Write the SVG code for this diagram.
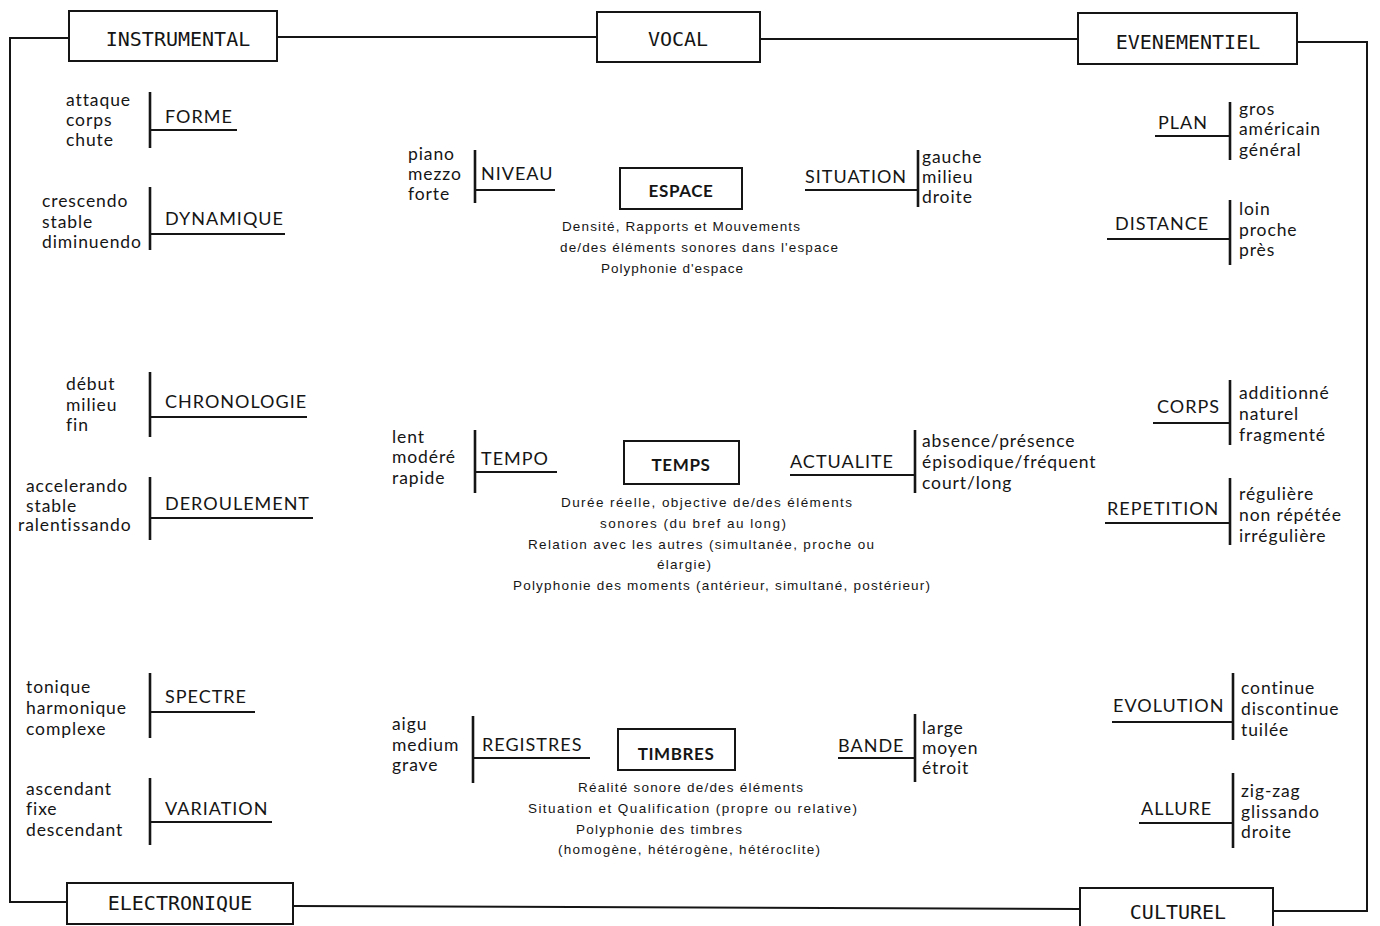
<svg xmlns="http://www.w3.org/2000/svg" width="1380" height="926" viewBox="0 0 1380 926">
  <style>
    .frame { fill: none; stroke: #151515; stroke-width: 2; }
    .box { fill: #fff; stroke: #151515; stroke-width: 2; }
    .cat { font-family: "DejaVu Sans Mono", "Liberation Mono", monospace; font-size: 20px; fill: #151515; text-anchor: middle; }
    .core { font-family: Lato, "Noto Sans", sans-serif; font-weight: bold; font-size: 17px; letter-spacing: 0.6px; fill: #151515; text-anchor: middle; }
    .lbl { font-family: Lato, "Noto Sans", sans-serif; font-size: 18px; letter-spacing: 1px; fill: #151515; }
    .item { font-family: Lato, "Noto Sans", sans-serif; font-size: 17.5px; letter-spacing: 0.9px; fill: #151515; }
    .desc { font-family: "Liberation Sans", Arial, sans-serif; font-size: 13.5px; fill: #151515; }
    .bar { stroke: #151515; stroke-width: 2.6; }
    .rule { stroke: #151515; stroke-width: 1.8; }
  </style>
  <rect width="1380" height="926" fill="#fff"/>

  <!-- outer frame joining the five categories -->
  <g id="connectors">
    <path class="frame" d="M69,38 H10 V902 H67"/>
    <path class="frame" d="M277,37 H597"/>
    <path class="frame" d="M760,39 H1078"/>
    <path class="frame" d="M1297,42 H1367 V911 H1273"/>
    <path class="frame" d="M293,906 L1080,909"/>
  </g>

  <!-- category boxes -->
  <g id="instrumental">
    <rect class="box" x="69" y="11" width="208" height="50"/>
    <text class="cat" x="178" y="46">INSTRUMENTAL</text>
  </g>
  <g id="vocal">
    <rect class="box" x="597" y="12" width="163" height="50"/>
    <text class="cat" x="678" y="46">VOCAL</text>
  </g>
  <g id="evenementiel">
    <rect class="box" x="1078" y="13" width="219" height="51"/>
    <text class="cat" x="1188" y="49">EVENEMENTIEL</text>
  </g>
  <g id="electronique">
    <rect class="box" x="67" y="883" width="226" height="41"/>
    <text class="cat" x="180" y="910">ELECTRONIQUE</text>
  </g>
  <g id="culturel">
    <rect class="box" x="1080" y="888" width="193" height="50"/>
    <text class="cat" x="1178" y="919">CULTUREL</text>
  </g>

  <!-- left column -->
  <g id="forme">
    <line class="bar" x1="150" y1="92" x2="150" y2="148"/>
    <line class="rule" x1="150" y1="130" x2="237" y2="130"/>
    <text class="lbl" x="165" y="123">FORME</text>
    <text class="item" x="66" y="106">attaque</text>
    <text class="item" x="66" y="126">corps</text>
    <text class="item" x="66" y="146">chute</text>
  </g>
  <g id="dynamique">
    <line class="bar" x1="150" y1="187" x2="150" y2="250"/>
    <line class="rule" x1="150" y1="234" x2="285" y2="234"/>
    <text class="lbl" x="165" y="225">DYNAMIQUE</text>
    <text class="item" x="42" y="207">crescendo</text>
    <text class="item" x="42" y="228">stable</text>
    <text class="item" x="42" y="248">diminuendo</text>
  </g>
  <g id="chronologie">
    <line class="bar" x1="150" y1="372" x2="150" y2="437"/>
    <line class="rule" x1="150" y1="417" x2="307" y2="417"/>
    <text class="lbl" x="165" y="408">CHRONOLOGIE</text>
    <text class="item" x="66" y="390">début</text>
    <text class="item" x="66" y="411">milieu</text>
    <text class="item" x="66" y="431">fin</text>
  </g>
  <g id="deroulement">
    <line class="bar" x1="150" y1="477" x2="150" y2="540"/>
    <line class="rule" x1="150" y1="518" x2="313" y2="518"/>
    <text class="lbl" x="165" y="510">DEROULEMENT</text>
    <text class="item" x="26" y="492">accelerando</text>
    <text class="item" x="26" y="512">stable</text>
    <text class="item" x="18" y="531">ralentissando</text>
  </g>
  <g id="spectre">
    <line class="bar" x1="150" y1="673" x2="150" y2="738"/>
    <line class="rule" x1="150" y1="712" x2="255" y2="712"/>
    <text class="lbl" x="165" y="703">SPECTRE</text>
    <text class="item" x="26" y="693">tonique</text>
    <text class="item" x="26" y="714">harmonique</text>
    <text class="item" x="26" y="735">complexe</text>
  </g>
  <g id="variation">
    <line class="bar" x1="150" y1="778" x2="150" y2="845"/>
    <line class="rule" x1="150" y1="822" x2="272" y2="822"/>
    <text class="lbl" x="165" y="815">VARIATION</text>
    <text class="item" x="26" y="795">ascendant</text>
    <text class="item" x="26" y="815">fixe</text>
    <text class="item" x="26" y="836">descendant</text>
  </g>

  <!-- centre: ESPACE -->
  <g id="niveau">
    <line class="bar" x1="475" y1="150" x2="475" y2="203"/>
    <line class="rule" x1="475" y1="190" x2="555" y2="190"/>
    <text class="lbl" x="481" y="180">NIVEAU</text>
    <text class="item" x="408" y="160">piano</text>
    <text class="item" x="408" y="180">mezzo</text>
    <text class="item" x="408" y="200">forte</text>
  </g>
  <g id="espace">
    <rect class="box" x="620" y="168" width="122" height="41"/>
    <text class="core" x="681" y="197">ESPACE</text>
    <text class="desc" x="562" y="231" textLength="238" lengthAdjust="spacing">Densité, Rapports et Mouvements</text>
    <text class="desc" x="560" y="252" textLength="278" lengthAdjust="spacing">de/des éléments sonores dans l'espace</text>
    <text class="desc" x="601" y="273" textLength="142" lengthAdjust="spacing">Polyphonie d'espace</text>
  </g>
  <g id="situation">
    <line class="bar" x1="918" y1="150" x2="918" y2="207"/>
    <line class="rule" x1="805" y1="190" x2="918" y2="190"/>
    <text class="lbl" x="805" y="183">SITUATION</text>
    <text class="item" x="922" y="163">gauche</text>
    <text class="item" x="922" y="183">milieu</text>
    <text class="item" x="922" y="203">droite</text>
  </g>

  <!-- centre: TEMPS -->
  <g id="tempo">
    <line class="bar" x1="475" y1="430" x2="475" y2="493"/>
    <line class="rule" x1="475" y1="472" x2="557" y2="472"/>
    <text class="lbl" x="481" y="465">TEMPO</text>
    <text class="item" x="392" y="443">lent</text>
    <text class="item" x="392" y="463">modéré</text>
    <text class="item" x="392" y="484">rapide</text>
  </g>
  <g id="temps">
    <rect class="box" x="624" y="441" width="115" height="43"/>
    <text class="core" x="681" y="471">TEMPS</text>
    <text class="desc" x="561" y="507" textLength="291" lengthAdjust="spacing">Durée réelle, objective de/des éléments</text>
    <text class="desc" x="600" y="528" textLength="186" lengthAdjust="spacing">sonores (du bref au long)</text>
    <text class="desc" x="528" y="549" textLength="346" lengthAdjust="spacing">Relation avec les autres (simultanée, proche ou</text>
    <text class="desc" x="657" y="569" textLength="54" lengthAdjust="spacing">élargie)</text>
    <text class="desc" x="513" y="590" textLength="417" lengthAdjust="spacing">Polyphonie des moments (antérieur, simultané, postérieur)</text>
  </g>
  <g id="actualite">
    <line class="bar" x1="915" y1="430" x2="915" y2="493"/>
    <line class="rule" x1="790" y1="475" x2="915" y2="475"/>
    <text class="lbl" x="790" y="468">ACTUALITE</text>
    <text class="item" x="922" y="447">absence/présence</text>
    <text class="item" x="922" y="468">épisodique/fréquent</text>
    <text class="item" x="922" y="489">court/long</text>
  </g>

  <!-- centre: TIMBRES -->
  <g id="registres">
    <line class="bar" x1="473" y1="716" x2="473" y2="783"/>
    <line class="rule" x1="473" y1="758" x2="590" y2="758"/>
    <text class="lbl" x="482" y="751">REGISTRES</text>
    <text class="item" x="392" y="730">aigu</text>
    <text class="item" x="392" y="751">medium</text>
    <text class="item" x="392" y="771">grave</text>
  </g>
  <g id="timbres">
    <rect class="box" x="618" y="729" width="117" height="41"/>
    <text class="core" x="676" y="760">TIMBRES</text>
    <text class="desc" x="578" y="792" textLength="225" lengthAdjust="spacing">Réalité sonore de/des éléments</text>
    <text class="desc" x="528" y="813" textLength="329" lengthAdjust="spacing">Situation et Qualification (propre ou relative)</text>
    <text class="desc" x="576" y="834" textLength="166" lengthAdjust="spacing">Polyphonie des timbres</text>
    <text class="desc" x="558" y="854" textLength="262" lengthAdjust="spacing">(homogène, hétérogène, hétéroclite)</text>
  </g>
  <g id="bande">
    <line class="bar" x1="915" y1="714" x2="915" y2="782"/>
    <line class="rule" x1="838" y1="758" x2="915" y2="758"/>
    <text class="lbl" x="838" y="752">BANDE</text>
    <text class="item" x="922" y="734">large</text>
    <text class="item" x="922" y="754">moyen</text>
    <text class="item" x="922" y="774">étroit</text>
  </g>

  <!-- right column -->
  <g id="plan">
    <line class="bar" x1="1230" y1="102" x2="1230" y2="160"/>
    <line class="rule" x1="1155" y1="136" x2="1230" y2="136"/>
    <text class="lbl" x="1158" y="129">PLAN</text>
    <text class="item" x="1239" y="115">gros</text>
    <text class="item" x="1239" y="135">américain</text>
    <text class="item" x="1239" y="156">général</text>
  </g>
  <g id="distance">
    <line class="bar" x1="1230" y1="200" x2="1230" y2="265"/>
    <line class="rule" x1="1107" y1="239" x2="1230" y2="239"/>
    <text class="lbl" x="1115" y="230">DISTANCE</text>
    <text class="item" x="1239" y="215">loin</text>
    <text class="item" x="1239" y="236">proche</text>
    <text class="item" x="1239" y="256">près</text>
  </g>
  <g id="corps">
    <line class="bar" x1="1230" y1="380" x2="1230" y2="445"/>
    <line class="rule" x1="1153" y1="423" x2="1230" y2="423"/>
    <text class="lbl" x="1157" y="413">CORPS</text>
    <text class="item" x="1239" y="399">additionné</text>
    <text class="item" x="1239" y="420">naturel</text>
    <text class="item" x="1239" y="441">fragmenté</text>
  </g>
  <g id="repetition">
    <line class="bar" x1="1230" y1="478" x2="1230" y2="545"/>
    <line class="rule" x1="1105" y1="523" x2="1230" y2="523"/>
    <text class="lbl" x="1107" y="515">REPETITION</text>
    <text class="item" x="1239" y="500">régulière</text>
    <text class="item" x="1239" y="521">non répétée</text>
    <text class="item" x="1239" y="542">irrégulière</text>
  </g>
  <g id="evolution">
    <line class="bar" x1="1233" y1="673" x2="1233" y2="740"/>
    <line class="rule" x1="1112" y1="722" x2="1233" y2="722"/>
    <text class="lbl" x="1113" y="712">EVOLUTION</text>
    <text class="item" x="1241" y="694">continue</text>
    <text class="item" x="1241" y="715">discontinue</text>
    <text class="item" x="1241" y="736">tuilée</text>
  </g>
  <g id="allure">
    <line class="bar" x1="1233" y1="773" x2="1233" y2="848"/>
    <line class="rule" x1="1139" y1="823" x2="1233" y2="823"/>
    <text class="lbl" x="1141" y="815">ALLURE</text>
    <text class="item" x="1241" y="797">zig-zag</text>
    <text class="item" x="1241" y="818">glissando</text>
    <text class="item" x="1241" y="838">droite</text>
  </g>
</svg>
